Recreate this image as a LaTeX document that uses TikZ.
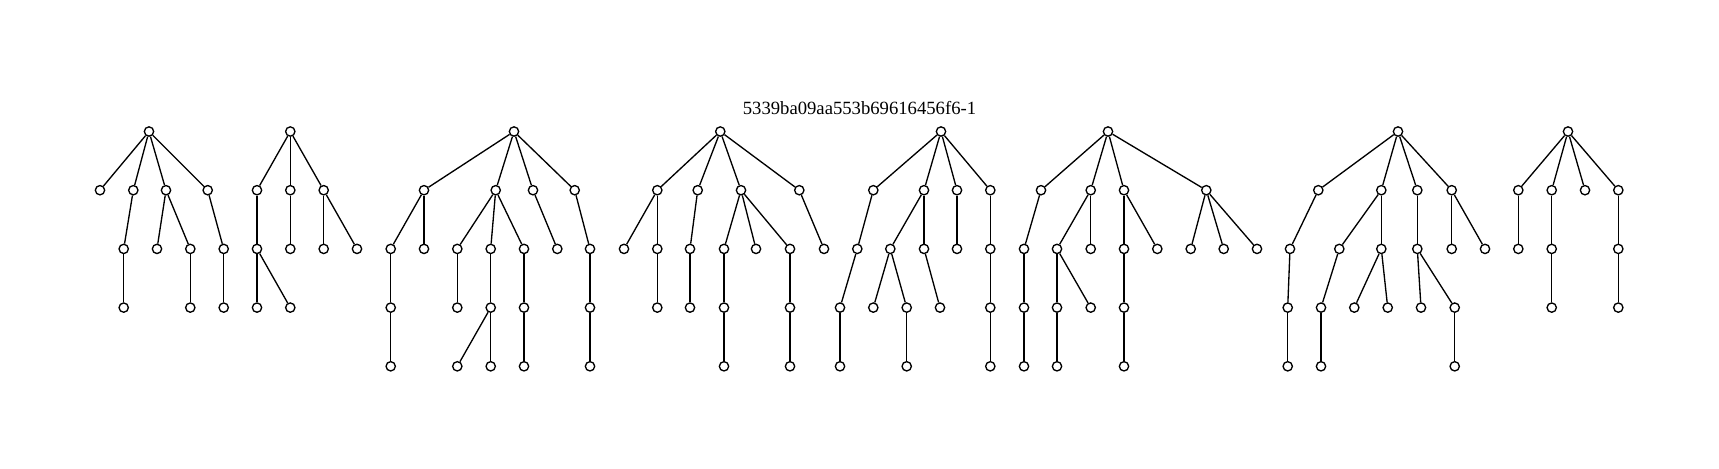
\documentclass[tikz,border=0pt]{standalone}
\usepackage{fontspec}
\setmainfont{Liberation Serif}
\begin{document}
\begin{tikzpicture}[x=0.75pt,y=-0.75pt,
  vtx/.style={circle,draw=black,fill=white,line width=1pt,minimum size=7pt,inner sep=0pt},
  lnk/.style={draw=black,line width=1pt}]
\useasboundingbox[fill=white] (0,0) rectangle (1719,468);
\def\La{131.5}\def\Lb{190.2}\def\Lc{248.9}\def\Ld{307.6}\def\Le{366.3}
\node[anchor=base,font=\fontsize{14pt}{16pt}\selectfont] (title) at (859.5,114) {5339ba09aa553b69616456f6-1};
% tree 1
\node[vtx] (t1r) at (149,\La) {};
\node[vtx] (t1a) at (100,\Lb) {};
\node[vtx] (t1b) at (133.3,\Lb) {};
\node[vtx] (t1c) at (166,\Lb) {};
\node[vtx] (t1d) at (207.7,\Lb) {};
\node[vtx] (t1b1) at (123.7,\Lc) {};
\node[vtx] (t1b11) at (123.7,\Ld) {};
\node[vtx] (t1c1) at (157,\Lc) {};
\node[vtx] (t1c2) at (190.3,\Lc) {};
\node[vtx] (t1c21) at (190.3,\Ld) {};
\node[vtx] (t1d1) at (223.7,\Lc) {};
\node[vtx] (t1d11) at (223.7,\Ld) {};
% tree 2
\node[vtx] (t2r) at (290.3,\La) {};
\node[vtx] (t2a) at (257,\Lb) {};
\node[vtx] (t2b) at (290.3,\Lb) {};
\node[vtx] (t2c) at (323.7,\Lb) {};
\node[vtx] (t2a1) at (257,\Lc) {};
\node[vtx] (t2a11) at (257,\Ld) {};
\node[vtx] (t2a12) at (290.3,\Ld) {};
\node[vtx] (t2b1) at (290.3,\Lc) {};
\node[vtx] (t2c1) at (323.7,\Lc) {};
\node[vtx] (t2c2) at (357,\Lc) {};
% tree 3
\node[vtx] (t3r) at (514,\La) {};
\node[vtx] (t3a) at (424,\Lb) {};
\node[vtx] (t3b) at (495.7,\Lb) {};
\node[vtx] (t3c) at (533,\Lb) {};
\node[vtx] (t3d) at (574.7,\Lb) {};
\node[vtx] (t3a1) at (390.7,\Lc) {};
\node[vtx] (t3a11) at (390.7,\Ld) {};
\node[vtx] (t3a111) at (390.7,\Le) {};
\node[vtx] (t3a2) at (424,\Lc) {};
\node[vtx] (t3b1) at (457.3,\Lc) {};
\node[vtx] (t3b11) at (457.3,\Ld) {};
\node[vtx] (t3b2) at (490.7,\Lc) {};
\node[vtx] (t3b21) at (490.7,\Ld) {};
\node[vtx] (t3b211) at (457.3,\Le) {};
\node[vtx] (t3b212) at (490.7,\Le) {};
\node[vtx] (t3b3) at (524,\Lc) {};
\node[vtx] (t3b31) at (524,\Ld) {};
\node[vtx] (t3b311) at (524,\Le) {};
\node[vtx] (t3c1) at (557.3,\Lc) {};
\node[vtx] (t3d1) at (590,\Lc) {};
\node[vtx] (t3d11) at (590,\Ld) {};
\node[vtx] (t3d111) at (590,\Le) {};
% tree 4
\node[vtx] (t4r) at (720.3,\La) {};
\node[vtx] (t4a) at (657.3,\Lb) {};
\node[vtx] (t4b) at (697.7,\Lb) {};
\node[vtx] (t4c) at (741,\Lb) {};
\node[vtx] (t4d) at (799.3,\Lb) {};
\node[vtx] (t4a1) at (624,\Lc) {};
\node[vtx] (t4a2) at (657.3,\Lc) {};
\node[vtx] (t4a21) at (657.3,\Ld) {};
\node[vtx] (t4b1) at (690,\Lc) {};
\node[vtx] (t4b11) at (690,\Ld) {};
\node[vtx] (t4c1) at (724,\Lc) {};
\node[vtx] (t4c11) at (724,\Ld) {};
\node[vtx] (t4c111) at (724,\Le) {};
\node[vtx] (t4c2) at (756,\Lc) {};
\node[vtx] (t4c3) at (790,\Lc) {};
\node[vtx] (t4c31) at (790,\Ld) {};
\node[vtx] (t4c311) at (790,\Le) {};
\node[vtx] (t4d1) at (824,\Lc) {};
% tree 5
\node[vtx] (t5r) at (941,\La) {};
\node[vtx] (t5a) at (873.3,\Lb) {};
\node[vtx] (t5b) at (924,\Lb) {};
\node[vtx] (t5c) at (957,\Lb) {};
\node[vtx] (t5d) at (990.3,\Lb) {};
\node[vtx] (t5a1) at (857.3,\Lc) {};
\node[vtx] (t5a11) at (840,\Ld) {};
\node[vtx] (t5a111) at (840,\Le) {};
\node[vtx] (t5b1) at (890.3,\Lc) {};
\node[vtx] (t5b11) at (873.3,\Ld) {};
\node[vtx] (t5b12) at (906.7,\Ld) {};
\node[vtx] (t5b121) at (906.7,\Le) {};
\node[vtx] (t5b2) at (924,\Lc) {};
\node[vtx] (t5b21) at (940,\Ld) {};
\node[vtx] (t5c1) at (957,\Lc) {};
\node[vtx] (t5d1) at (990.3,\Lc) {};
\node[vtx] (t5d11) at (990.3,\Ld) {};
\node[vtx] (t5d111) at (990.3,\Le) {};
% tree 6
\node[vtx] (t6r) at (1108,\La) {};
\node[vtx] (t6a) at (1041,\Lb) {};
\node[vtx] (t6b) at (1090.7,\Lb) {};
\node[vtx] (t6c) at (1124,\Lb) {};
\node[vtx] (t6d) at (1206.3,\Lb) {};
\node[vtx] (t6a1) at (1024,\Lc) {};
\node[vtx] (t6a11) at (1024,\Ld) {};
\node[vtx] (t6a111) at (1024,\Le) {};
\node[vtx] (t6b1) at (1057,\Lc) {};
\node[vtx] (t6b11) at (1057,\Ld) {};
\node[vtx] (t6b111) at (1057,\Le) {};
\node[vtx] (t6b12) at (1090.7,\Ld) {};
\node[vtx] (t6b2) at (1090.7,\Lc) {};
\node[vtx] (t6c1) at (1124,\Lc) {};
\node[vtx] (t6c11) at (1124,\Ld) {};
\node[vtx] (t6c111) at (1124,\Le) {};
\node[vtx] (t6c2) at (1157.3,\Lc) {};
\node[vtx] (t6d1) at (1190.7,\Lc) {};
\node[vtx] (t6d2) at (1223.7,\Lc) {};
\node[vtx] (t6d3) at (1257,\Lc) {};
% tree 7
\node[vtx] (t7r) at (1398,\La) {};
\node[vtx] (t7a) at (1318.3,\Lb) {};
\node[vtx] (t7b) at (1381.3,\Lb) {};
\node[vtx] (t7c) at (1417.3,\Lb) {};
\node[vtx] (t7d) at (1451.7,\Lb) {};
\node[vtx] (t7a1) at (1290,\Lc) {};
\node[vtx] (t7a11) at (1287.7,\Ld) {};
\node[vtx] (t7a111) at (1287.7,\Le) {};
\node[vtx] (t7b1) at (1339.3,\Lc) {};
\node[vtx] (t7b11) at (1321,\Ld) {};
\node[vtx] (t7b111) at (1321,\Le) {};
\node[vtx] (t7b2) at (1381.3,\Lc) {};
\node[vtx] (t7b21) at (1354.3,\Ld) {};
\node[vtx] (t7b22) at (1387.7,\Ld) {};
\node[vtx] (t7c1) at (1417.3,\Lc) {};
\node[vtx] (t7c11) at (1421,\Ld) {};
\node[vtx] (t7c12) at (1454.7,\Ld) {};
\node[vtx] (t7c121) at (1454.7,\Le) {};
\node[vtx] (t7d1) at (1451.7,\Lc) {};
\node[vtx] (t7d2) at (1485,\Lc) {};
% tree 8
\node[vtx] (t8r) at (1568,\La) {};
\node[vtx] (t8a) at (1518.3,\Lb) {};
\node[vtx] (t8b) at (1551.7,\Lb) {};
\node[vtx] (t8c) at (1585,\Lb) {};
\node[vtx] (t8d) at (1618.3,\Lb) {};
\node[vtx] (t8a1) at (1518.3,\Lc) {};
\node[vtx] (t8b1) at (1551.7,\Lc) {};
\node[vtx] (t8b11) at (1551.7,\Ld) {};
\node[vtx] (t8d1) at (1618.3,\Lc) {};
\node[vtx] (t8d11) at (1618.3,\Ld) {};
% edges
\foreach \p/\q in {t1r/t1a,t1r/t1b,t1r/t1c,t1r/t1d,t1b/t1b1,t1b1/t1b11,t1c/t1c1,t1c/t1c2,t1c2/t1c21,t1d/t1d1,t1d1/t1d11,
  t2r/t2a,t2r/t2b,t2r/t2c,t2a/t2a1,t2a1/t2a11,t2a1/t2a12,t2b/t2b1,t2c/t2c1,t2c/t2c2,
  t3r/t3a,t3r/t3b,t3r/t3c,t3r/t3d,t3a/t3a1,t3a1/t3a11,t3a11/t3a111,t3a/t3a2,t3b/t3b1,t3b1/t3b11,t3b/t3b2,t3b2/t3b21,t3b21/t3b211,t3b21/t3b212,t3b/t3b3,t3b3/t3b31,t3b31/t3b311,t3c/t3c1,t3d/t3d1,t3d1/t3d11,t3d11/t3d111,
  t4r/t4a,t4r/t4b,t4r/t4c,t4r/t4d,t4a/t4a1,t4a/t4a2,t4a2/t4a21,t4b/t4b1,t4b1/t4b11,t4c/t4c1,t4c1/t4c11,t4c11/t4c111,t4c/t4c2,t4c/t4c3,t4c3/t4c31,t4c31/t4c311,t4d/t4d1,
  t5r/t5a,t5r/t5b,t5r/t5c,t5r/t5d,t5a/t5a1,t5a1/t5a11,t5a11/t5a111,t5b/t5b1,t5b1/t5b11,t5b1/t5b12,t5b12/t5b121,t5b/t5b2,t5b2/t5b21,t5c/t5c1,t5d/t5d1,t5d1/t5d11,t5d11/t5d111,
  t6r/t6a,t6r/t6b,t6r/t6c,t6r/t6d,t6a/t6a1,t6a1/t6a11,t6a11/t6a111,t6b/t6b1,t6b1/t6b11,t6b11/t6b111,t6b1/t6b12,t6b/t6b2,t6c/t6c1,t6c1/t6c11,t6c11/t6c111,t6c/t6c2,t6d/t6d1,t6d/t6d2,t6d/t6d3,
  t7r/t7a,t7r/t7b,t7r/t7c,t7r/t7d,t7a/t7a1,t7a1/t7a11,t7a11/t7a111,t7b/t7b1,t7b1/t7b11,t7b11/t7b111,t7b/t7b2,t7b2/t7b21,t7b2/t7b22,t7c/t7c1,t7c1/t7c11,t7c1/t7c12,t7c12/t7c121,t7d/t7d1,t7d/t7d2,
  t8r/t8a,t8r/t8b,t8r/t8c,t8r/t8d,t8a/t8a1,t8b/t8b1,t8b1/t8b11,t8d/t8d1,t8d1/t8d11}
  \draw[lnk] (\p) -- (\q);
\end{tikzpicture}
\end{document}
